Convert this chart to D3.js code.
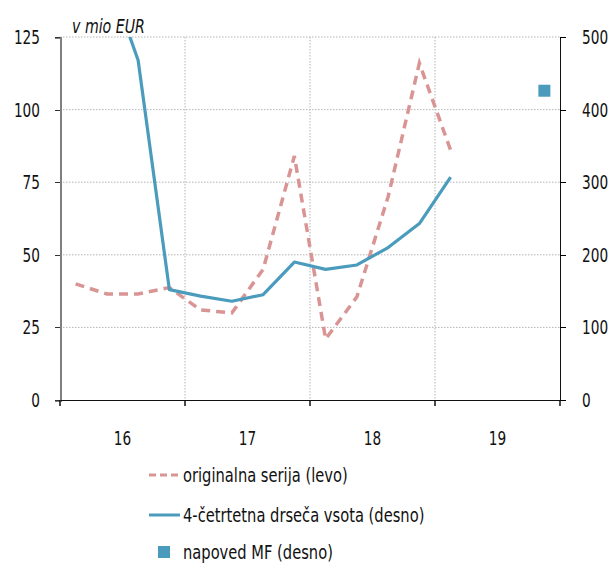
<!DOCTYPE html>
<html>
<head>
<meta charset="utf-8">
<script src="https://cdn.jsdelivr.net/npm/d3@7"></script>
<style>
  body { margin: 0; background: #fff; }
  svg text { font-family: "DejaVu Sans Condensed", "DejaVu Sans", sans-serif; font-stretch: condensed; fill: #111; }
</style>
</head>
<body>
<svg class="chart"></svg>
<script>
/******** Data ********/
// quarters Q1 2016 .. Q4 2019
var quarters = ["16Q1","16Q2","16Q3","16Q4","17Q1","17Q2","17Q3","17Q4",
                "18Q1","18Q2","18Q3","18Q4","19Q1","19Q2","19Q3","19Q4"];
var years = ["16", "17", "18", "19"];
// originalna serija (levo), mio EUR
var original = [40, 36.5, 36.5, 38.7, 31, 30, 45, 84, 21, 35.5, 70, 116, 86];
// 4-četrtletna drseča vsota (desno), starts at 16Q2
var rollingQuarters = ["16Q2","16Q3","16Q4","17Q1","17Q2","17Q3","17Q4","18Q1","18Q2","18Q3","18Q4","19Q1"];
var rolling = [590, 468, 152, 143, 136, 145, 190, 180, 186, 210, 243, 307];
// napoved MF (desno)
var forecastQuarter = "19Q4";
var forecast = 426;

var leftTicks = [0, 25, 50, 75, 100, 125];
var rightTicks = [0, 100, 200, 300, 400, 500];

var chartWidth = 612, chartHeight = 563;
var mLeft = 60, mRight = 560, mTop = 37, mBottom = 400;
var blue = "#4b9bbd", pink = "#d99594";

var canvas = d3.select(".chart")
  .attr("width", chartWidth)
  .attr("height", chartHeight);

// squeeze text horizontally (the original font is very narrow)
function condense(sel, factor) {
  sel.each(function () {
    var t = d3.select(this);
    var tx = +t.attr("x") || 0, ty = +t.attr("y") || 0;
    t.attr("x", 0).attr("y", 0)
      .attr("transform", "translate(" + tx + "," + ty + ") scale(" + factor + ",1)");
  });
}

/******** Scales ********/
var x = d3.scaleBand().domain(quarters).range([mLeft, mRight]);
var xYear = d3.scaleBand().domain(years).range([mLeft, mRight]);
var yL = d3.scaleLinear().domain([0, 125]).range([mBottom, mTop]);
var yR = d3.scaleLinear().domain([0, 500]).range([mBottom, mTop]);
var cx = q => x(q) + x.bandwidth() / 2;

canvas.append("clipPath").attr("id", "plot")
  .append("rect").attr("x", mLeft).attr("y", mTop).attr("width", mRight - mLeft).attr("height", mBottom - mTop);

/******** Grid ********/
canvas.append("g").selectAll("line")
  .data(leftTicks.filter(d => d > 0))
  .join("line")
  .attr("x1", mLeft).attr("x2", mRight)
  .attr("y1", d => yL(d)).attr("y2", d => yL(d))
  .attr("stroke", "#b5b5b5").attr("stroke-dasharray", "1.5,1.5");

canvas.append("g").selectAll("line")
  .data(years.slice(1))
  .join("line")
  .attr("x1", d => xYear(d)).attr("x2", d => xYear(d))
  .attr("y1", mTop).attr("y2", mBottom)
  .attr("stroke", "#b5b5b5").attr("stroke-dasharray", "1.5,1.5");

/******** Lines ********/
var plot = canvas.append("g").attr("clip-path", "url(#plot)");

plot.append("path")
  .datum(original)
  .attr("fill", "none")
  .attr("stroke", pink)
  .attr("stroke-width", 3.5)
  .attr("stroke-dasharray", "9,6")
  .attr("d", d3.line().x((d, i) => cx(quarters[i])).y(d => yL(d)));

plot.append("path")
  .datum(rolling)
  .attr("fill", "none")
  .attr("stroke", blue)
  .attr("stroke-width", 3.2)
  .attr("stroke-linejoin", "round")
  .attr("d", d3.line().x((d, i) => cx(rollingQuarters[i])).y(d => yR(d)));

canvas.append("rect")
  .attr("x", cx(forecastQuarter) - 6).attr("y", yR(forecast) - 6)
  .attr("width", 12).attr("height", 12)
  .attr("fill", blue);

/******** Axes ********/
var yAxisL = canvas.append("g")
  .attr("transform", "translate(" + mLeft + ",0)")
  .call(d3.axisLeft(yL).tickValues(leftTicks).tickSize(5).tickPadding(15));
yAxisL.select(".domain").attr("stroke", "#7f7f7f").attr("stroke-width", 2);
yAxisL.selectAll(".tick line").attr("stroke", "#333");

var yAxisR = canvas.append("g")
  .attr("transform", "translate(" + mRight + ",0)")
  .call(d3.axisRight(yR).tickValues(rightTicks).tickSize(6).tickPadding(16));
yAxisR.select(".domain").attr("stroke", "#111").attr("stroke-width", 1.5);

var xAxis = canvas.append("g")
  .attr("transform", "translate(0," + mBottom + ")")
  .call(d3.axisBottom(xYear).tickSize(0).tickPadding(31));
xAxis.select(".domain").attr("stroke", "#111").attr("stroke-width", 1.5);
xAxis.selectAll(".yeartick")
  .data(years.concat(["end"]))
  .join("line")
  .attr("x1", (d, i) => mLeft + i * xYear.step())
  .attr("x2", (d, i) => mLeft + i * xYear.step())
  .attr("y1", 0).attr("y2", 6)
  .attr("stroke", "#111").attr("stroke-width", 1.5);

canvas.selectAll(".tick text").style("font-size", "20px").call(condense, 0.76);
[yAxisL, yAxisR, xAxis].forEach(g => g.selectAll(".domain, .tick line").attr("shape-rendering", "crispEdges"));

canvas.append("text")
  .attr("x", 72).attr("y", 33)
  .style("font-size", "19px").style("font-style", "italic")
  .text("v mio EUR")
  .call(condense, 0.83);

/******** Legend ********/
var legend = canvas.append("g");
var items = [
  {label: "originalna serija (levo)", type: "dash", y: 475},
  {label: "4-četrtetna drseča vsota (desno)", type: "line", y: 515},
  {label: "napoved MF (desno)", type: "square", y: 552}
];
items.forEach(function (d) {
  if (d.type === "square") {
    legend.append("rect").attr("x", 158).attr("y", d.y - 6).attr("width", 12).attr("height", 12).attr("fill", blue);
  } else {
    legend.append("line")
      .attr("x1", 149).attr("x2", 180).attr("y1", d.y).attr("y2", d.y)
      .attr("stroke", d.type === "dash" ? pink : blue)
      .attr("stroke-width", 3)
      .attr("stroke-dasharray", d.type === "dash" ? "7,4" : null);
  }
  legend.append("text")
    .attr("x", 183).attr("y", d.y + 7)
    .style("font-size", "19px")
    .text(d.label)
    .call(condense, 0.86);
});
</script>
</body>
</html>
